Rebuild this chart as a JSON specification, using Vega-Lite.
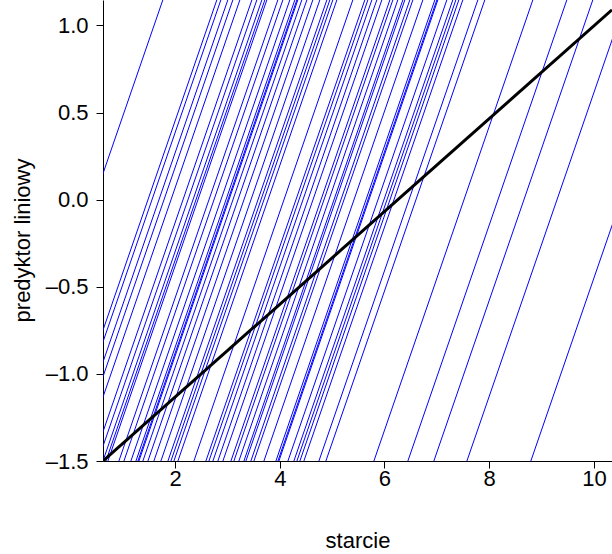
{
  "$schema": "https://vega.github.io/schema/vega-lite/v6.json",
  "width": 509,
  "height": 461,
  "autosize": {"type": "none"},
  "padding": {"left": 103, "top": 0, "right": 0, "bottom": 93},
  "config": {
    "view": {"stroke": null},
    "font": "Liberation Sans",
    "axis": {
      "grid": false,
      "domainColor": "black",
      "domainWidth": 1,
      "tickColor": "black",
      "tickWidth": 1,
      "tickSize": 7,
      "labelColor": "black",
      "labelFont": "Liberation Sans",
      "labelFontSize": 22,
      "titleColor": "black",
      "titleFont": "Liberation Sans",
      "titleFontSize": 22,
      "titleFontWeight": "normal"
    }
  },
  "layer": [
    {
      "data": {"values": [
        {"x": -1.382, "y": -1.6, "x2": 1.829, "y2": 1.2},
        {"x": -0.351, "y": -1.6, "x2": 2.860, "y2": 1.2},
        {"x": -0.274, "y": -1.6, "x2": 2.937, "y2": 1.2},
        {"x": -0.141, "y": -1.6, "x2": 3.070, "y2": 1.2},
        {"x": -0.045, "y": -1.6, "x2": 3.166, "y2": 1.2},
        {"x": 0.089, "y": -1.6, "x2": 3.300, "y2": 1.2},
        {"x": 0.318, "y": -1.6, "x2": 3.529, "y2": 1.2},
        {"x": 0.413, "y": -1.6, "x2": 3.624, "y2": 1.2},
        {"x": 0.509, "y": -1.6, "x2": 3.720, "y2": 1.2},
        {"x": 0.566, "y": -1.6, "x2": 3.777, "y2": 1.2},
        {"x": 0.604, "y": -1.6, "x2": 3.815, "y2": 1.2},
        {"x": 0.814, "y": -1.6, "x2": 4.025, "y2": 1.2},
        {"x": 0.910, "y": -1.6, "x2": 4.121, "y2": 1.2},
        {"x": 1.043, "y": -1.6, "x2": 4.254, "y2": 1.2},
        {"x": 1.139, "y": -1.6, "x2": 4.350, "y2": 1.2},
        {"x": 1.177, "y": -1.6, "x2": 4.388, "y2": 1.2},
        {"x": 1.196, "y": -1.6, "x2": 4.407, "y2": 1.2},
        {"x": 1.272, "y": -1.6, "x2": 4.483, "y2": 1.2},
        {"x": 1.368, "y": -1.6, "x2": 4.579, "y2": 1.2},
        {"x": 1.482, "y": -1.6, "x2": 4.693, "y2": 1.2},
        {"x": 1.616, "y": -1.6, "x2": 4.827, "y2": 1.2},
        {"x": 1.750, "y": -1.6, "x2": 4.961, "y2": 1.2},
        {"x": 1.807, "y": -1.6, "x2": 5.018, "y2": 1.2},
        {"x": 1.864, "y": -1.6, "x2": 5.075, "y2": 1.2},
        {"x": 1.941, "y": -1.6, "x2": 5.152, "y2": 1.2},
        {"x": 2.246, "y": -1.6, "x2": 5.457, "y2": 1.2},
        {"x": 2.475, "y": -1.6, "x2": 5.686, "y2": 1.2},
        {"x": 2.533, "y": -1.6, "x2": 5.744, "y2": 1.2},
        {"x": 2.609, "y": -1.6, "x2": 5.820, "y2": 1.2},
        {"x": 2.704, "y": -1.6, "x2": 5.915, "y2": 1.2},
        {"x": 2.800, "y": -1.6, "x2": 6.011, "y2": 1.2},
        {"x": 2.953, "y": -1.6, "x2": 6.164, "y2": 1.2},
        {"x": 3.010, "y": -1.6, "x2": 6.221, "y2": 1.2},
        {"x": 3.105, "y": -1.6, "x2": 6.316, "y2": 1.2},
        {"x": 3.201, "y": -1.6, "x2": 6.412, "y2": 1.2},
        {"x": 3.239, "y": -1.6, "x2": 6.450, "y2": 1.2},
        {"x": 3.334, "y": -1.6, "x2": 6.545, "y2": 1.2},
        {"x": 3.392, "y": -1.6, "x2": 6.603, "y2": 1.2},
        {"x": 3.583, "y": -1.6, "x2": 6.794, "y2": 1.2},
        {"x": 3.812, "y": -1.6, "x2": 7.023, "y2": 1.2},
        {"x": 3.850, "y": -1.6, "x2": 7.061, "y2": 1.2},
        {"x": 3.869, "y": -1.6, "x2": 7.080, "y2": 1.2},
        {"x": 4.041, "y": -1.6, "x2": 7.252, "y2": 1.2},
        {"x": 4.155, "y": -1.6, "x2": 7.366, "y2": 1.2},
        {"x": 4.213, "y": -1.6, "x2": 7.424, "y2": 1.2},
        {"x": 4.270, "y": -1.6, "x2": 7.481, "y2": 1.2},
        {"x": 4.346, "y": -1.6, "x2": 7.557, "y2": 1.2},
        {"x": 4.633, "y": -1.6, "x2": 7.844, "y2": 1.2},
        {"x": 4.766, "y": -1.6, "x2": 7.977, "y2": 1.2},
        {"x": 5.683, "y": -1.6, "x2": 8.894, "y2": 1.2},
        {"x": 6.332, "y": -1.6, "x2": 9.543, "y2": 1.2},
        {"x": 6.828, "y": -1.6, "x2": 10.039, "y2": 1.2},
        {"x": 7.459, "y": -1.6, "x2": 10.670, "y2": 1.2},
        {"x": 8.680, "y": -1.6, "x2": 11.891, "y2": 1.2}
      ]},
      "mark": {"type": "rule", "color": "#0000FF", "strokeWidth": 1, "clip": true},
      "encoding": {
        "x": {
          "field": "x", "type": "quantitative",
          "scale": {"domain": [0.625, 10.344], "nice": false, "zero": false},
          "axis": {
            "values": [2, 4, 6, 8, 10],
            "title": "starcie",
            "labelPadding": 0,
            "titleY": 79,
            "titleBaseline": "middle"
          }
        },
        "y": {
          "field": "y", "type": "quantitative",
          "scale": {"domain": [-1.5, 1.146], "nice": false, "zero": false},
          "axis": {
            "values": [-1.5, -1, -0.5, 0, 0.5, 1],
            "format": ".1f",
            "labelExpr": "replace(datum.label, '\u2212', '\u2013')",
            "labelPadding": 8,
            "title": "predyktor liniowy",
            "titleAngle": 270,
            "titleX": -81,
            "titleY": 240,
            "titleBaseline": "middle",
            "titleAlign": "center"
          }
        },
        "x2": {"field": "x2"},
        "y2": {"field": "y2"}
      }
    },
    {
      "data": {"values": [
        {"x": 0.625, "y": -1.5},
        {"x": 10.344, "y": 1.09}
      ]},
      "mark": {"type": "line", "color": "black", "strokeWidth": 3, "clip": true},
      "encoding": {
        "x": {"field": "x", "type": "quantitative"},
        "y": {"field": "y", "type": "quantitative"}
      }
    }
  ]
}
